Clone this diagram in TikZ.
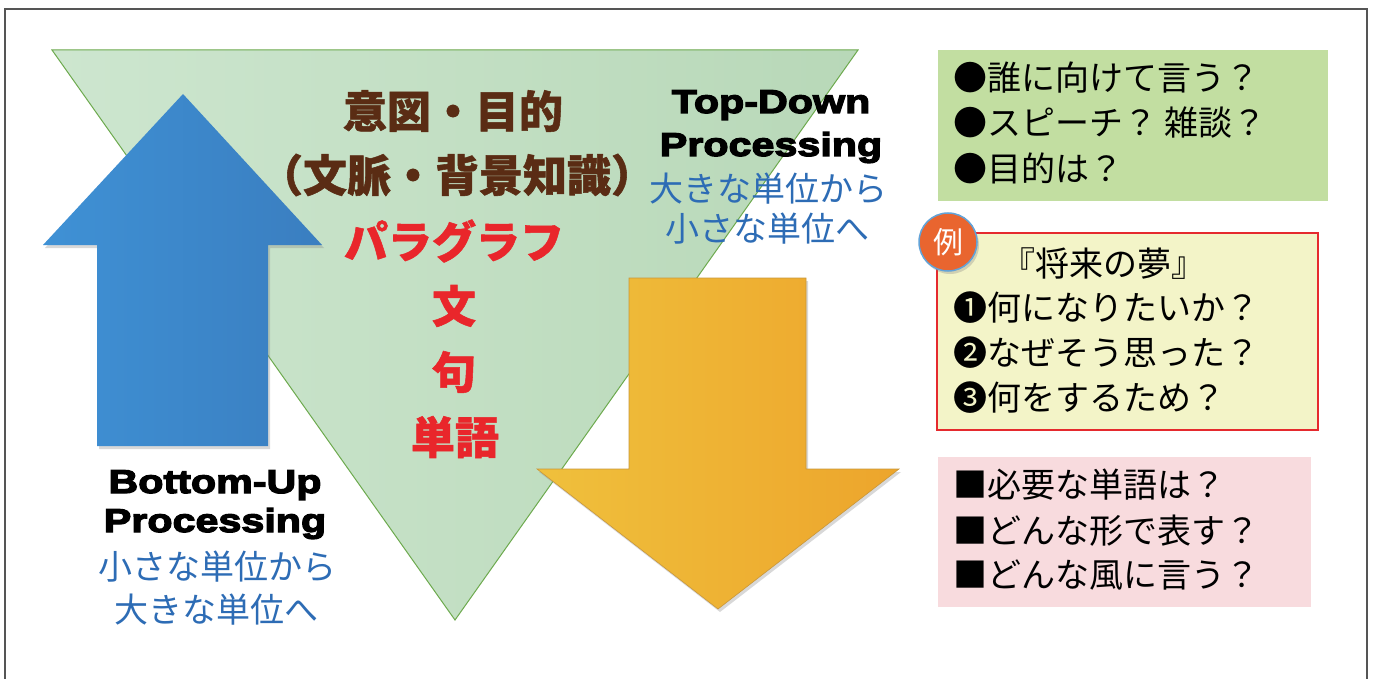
\documentclass[tikz,border=0pt]{standalone}
\usepackage{fontspec}
\usetikzlibrary{shadows}
\newfontfamily\jp{Noto Sans CJK JP}[AutoFakeBold=2]
\newfontfamily\jph{Noto Sans CJK JP}[BoldFeatures={FakeBold=1.2}]
\newfontfamily\latb{Liberation Sans}[FakeStretch=1.25, BoldFeatures={FakeBold=4}]
\definecolor{cframe}{HTML}{555555}
\definecolor{ctriL}{HTML}{CDE6CF}
\definecolor{ctriR}{HTML}{B8D8B8}
\definecolor{ctriE}{HTML}{6DAA4E}
\definecolor{cblueL}{HTML}{3F91D5}
\definecolor{cblueR}{HTML}{3A7EC0}
\definecolor{corL}{HTML}{EFC03C}
\definecolor{corR}{HTML}{EDA52C}
\definecolor{corE}{HTML}{C9973A}
\definecolor{cbrown}{HTML}{5A2C14}
\definecolor{cred}{HTML}{E9262B}
\definecolor{cbluetext}{HTML}{2D6CB5}
\definecolor{cgreenbox}{HTML}{C2DEA1}
\definecolor{cyellowbox}{HTML}{F3F4C8}
\definecolor{credbox}{HTML}{E52A2E}
\definecolor{cpinkbox}{HTML}{F8DBDE}
\definecolor{ccircle}{HTML}{E9652F}
\definecolor{ccircleE}{HTML}{62A3D8}
\begin{document}
\begin{tikzpicture}[x=1pt,y=-1pt,
  shadowed/.style={drop shadow={opacity=0.3,shadow xshift=2pt,shadow yshift=-3pt}},
  bigjp/.style={font=\jph\bfseries\fontsize{44}{50}\selectfont, inner sep=0},
  brownt/.style={bigjp, text=cbrown},
  redt/.style={bigjp, text=cred},
  proc/.style={font=\latb\bfseries\fontsize{33}{36}\selectfont, inner sep=0, anchor=base},
  bluet/.style={font=\jp\fontsize{34}{40}\selectfont, text=cbluetext, inner sep=0},
  item/.style={font=\jp\fontsize{34}{40}\selectfont, inner sep=0, anchor=west}]
\useasboundingbox (0,0) rectangle (1375,679);
\fill[white] (0,0) rectangle (1375,679);
% frame
\draw[cframe, line width=1.2pt] (5,700) -- (5,9) -- (1367,9) -- (1367,700);
% green triangle
\path[left color=ctriL, right color=ctriR, draw=ctriE, line width=1pt]
  (52,50) -- (858,50) -- (455,620) -- cycle;
% blue up arrow
\path[shadowed, left color=cblueL, right color=cblueR]
  (183,94) -- (322,245) -- (268,245) -- (268,446) -- (97,446) -- (97,245) -- (43,245) -- cycle;
% orange down arrow
\path[shadowed, left color=corL, right color=corR, draw=corE, line width=0.6pt]
  (629,278) -- (806,278) -- (806,469) -- (899,469) -- (718,609) -- (537,469) -- (629,469) -- cycle;
% central text
\node[brownt] (c1) at (453,111) {意図・目的};
\node[brownt] (c2) at (457,175) {（文脈・背景知識）};
\node[redt] (c3) at (454,241) {パラグラフ};
\node[redt] (c4) at (454,306) {文};
\node[redt] (c5) at (454,372) {句};
\node[redt] (c6) at (455,437) {単語};
% Bottom-Up
\node[proc] (bu1) at (215,493) {Bottom-Up};
\node[proc] (bu2) at (215,532) {Processing};
\node[bluet] (bu3) at (217,567) {小さな単位から};
\node[bluet] (bu4) at (216,610) {大きな単位へ};
% Top-Down
\node[proc] (td1) at (771,113) {Top-Down};
\node[proc] (td2) at (771,156) {Processing};
\node[bluet] (td3) at (768,189) {大きな単位から};
\node[bluet] (td4) at (767,229) {小さな単位へ};
% green box
\fill[cgreenbox] (938,50) rectangle (1328,201);
\node[item] (g1) at (953,78) {●誰に向けて言う？};
\node[item] (g2) at (953,123) {●スピーチ？ 雑談？};
\node[item] (g3) at (953,168) {●目的は？};
% yellow box
\draw[fill=cyellowbox, draw=credbox, line width=2pt] (937,233) rectangle (1318,430);
\node[item] (y0) at (1001,264) {『将来の夢』};
\node[item] (y1) at (953,308) {❶何になりたいか？};
\node[item] (y2) at (953,353) {❷なぜそう思った？};
\node[item] (y3) at (953,398) {❸何をするため？};
\node[shadowed, circle, fill=ccircle, draw=ccircleE, line width=1.5pt, minimum size=58pt, inner sep=0,
  text=white, font=\jp\fontsize{30}{34}\selectfont] (ex) at (948,242) {例};
% pink box
\fill[cpinkbox] (938,457) rectangle (1311,607);
\node[item] (p1) at (953,485) {■必要な単語は？};
\node[item] (p2) at (953,531) {■どんな形で表す？};
\node[item] (p3) at (953,575) {■どんな風に言う？};
\end{tikzpicture}
\end{document}
